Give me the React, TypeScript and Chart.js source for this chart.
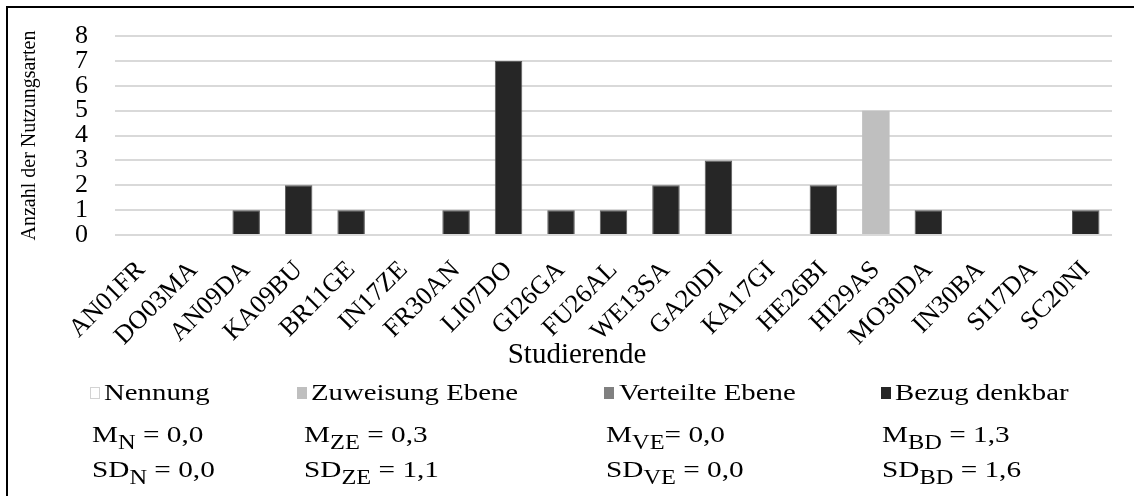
import React, { useEffect, useRef } from "react";
import { Chart, registerables } from "chart.js";

Chart.register(...registerables);

const categories = [
  "AN01FR", "DO03MA", "AN09DA", "KA09BU", "BR11GE", "IN17ZE", "FR30AN", "LI07DO",
  "GI26GA", "FU26AL", "WE13SA", "GA20DI", "KA17GI", "HE26BI", "HI29AS", "MO30DA",
  "IN30BA", "SI17DA", "SC20NI",
];
const nennung = [0, 0, 0, 0, 0, 0, 0, 0, 0, 0, 0, 0, 0, 0, 0, 0, 0, 0, 0];
const zuweisungEbene = [0, 0, 0, 0, 0, 0, 0, 0, 0, 0, 0, 0, 0, 0, 5, 0, 0, 0, 0];
const verteilteEbene = [0, 0, 0, 0, 0, 0, 0, 0, 0, 0, 0, 0, 0, 0, 0, 0, 0, 0, 0];
const bezugDenkbar = [0, 0, 1, 2, 1, 0, 1, 7, 1, 1, 2, 3, 0, 2, 0, 1, 0, 0, 1];

const yMin = 0;
const yMax = 8;
const yStep = 1;

const yTitle = "Anzahl der Nutzungsarten";
const xTitle = "Studierende";
const legendLabels = ["Nennung", "Zuweisung Ebene", "Verteilte Ebene", "Bezug denkbar"];
const statSubs = ["N", "ZE", "VE", "BD"];
const meanValues = ["0,0", "0,3", "0,0", "1,3"];
const sdValues = ["0,0", "1,1", "0,0", "1,6"];

const FONT = "'Liberation Serif', 'Times New Roman', serif";
const colors = ["#FFFFFF", "#BFBFBF", "#808080", "#262626"];

export default function App() {
  const ref = useRef<HTMLCanvasElement | null>(null);

  useEffect(() => {
    const canvas = ref.current;
    if (!canvas) return;

    const extras = {
      id: "extras",
      afterDraw(chart: any) {
        const ctx = chart.ctx as CanvasRenderingContext2D;
        const txt = (s: string, x: number, y: number, size: number, sx: number) => {
          ctx.font = `${size}px ${FONT}`;
          const w = ctx.measureText(s).width * sx;
          ctx.save();
          ctx.translate(x, y);
          ctx.scale(sx, 1);
          ctx.fillText(s, 0, 0);
          ctx.restore();
          return w;
        };
        ctx.save();
        // outer frame
        ctx.strokeStyle = "#000";
        ctx.lineWidth = 2;
        ctx.strokeRect(7, 7, 1140, 500);

        ctx.fillStyle = "#000";
        ctx.textBaseline = "alphabetic";
        ctx.textAlign = "center";
        ctx.font = `29px ${FONT}`;
        ctx.fillText(xTitle, 577, 363);

        // legend row
        const boxX = [90, 297, 604, 881];
        const textX = [104, 311, 619, 895];
        ctx.textAlign = "left";
        legendLabels.forEach((lab, i) => {
          if (i === 0) {
            ctx.fillStyle = "#fff";
            ctx.fillRect(boxX[i], 387, 10, 12);
            ctx.strokeStyle = "#A6A6A6";
            ctx.lineWidth = 1;
            ctx.setLineDash([1, 1]);
            ctx.strokeRect(boxX[i] + 0.5, 387.5, 9, 11);
            ctx.setLineDash([]);
          } else {
            ctx.fillStyle = colors[i];
            ctx.fillRect(boxX[i], 387, 10, 12);
          }
          ctx.fillStyle = "#000";
          txt(lab, textX[i], 400, 24, 1.2);
        });

        // stats rows
        const statX = [92, 304, 606, 882];
        const sx = 1.22;
        const drawStat = (x: number, y: number, main: string, sub: string, rest: string) => {
          let cx = x;
          cx += txt(main, cx, y, 24, sx);
          cx += txt(sub, cx, y + 7, 20, sx);
          txt(rest, cx, y, 24, sx);
        };
        statSubs.forEach((s, i) => {
          const sep = i === 2 ? "= " : " = ";
          drawStat(statX[i], 442, "M", s, sep + meanValues[i]);
          drawStat(statX[i], 477, "SD", s, " = " + sdValues[i]);
        });
        ctx.restore();
      },
    };

    const chart = new Chart(canvas, {
      type: "bar",
      data: {
        labels: categories,
        datasets: [
          { label: legendLabels[0], data: nennung, backgroundColor: colors[0], borderColor: "#A6A6A6", borderWidth: 0 },
          { label: legendLabels[1], data: zuweisungEbene, backgroundColor: colors[1], borderWidth: 0 },
          { label: legendLabels[2], data: verteilteEbene, backgroundColor: colors[2], borderWidth: 0 },
          { label: legendLabels[3], data: bezugDenkbar, backgroundColor: colors[3], borderColor: "#5a5a5a", borderWidth: 1 },
        ],
      },
      options: {
        responsive: false,
        animation: false,
        datasets: { bar: { categoryPercentage: 1, barPercentage: 0.524 } },
        layout: { padding: { left: 8, right: 22, top: 36, bottom: 131 } },
        plugins: { legend: { display: false }, tooltip: { enabled: false } },
        scales: {
          x: {
            stacked: true,
            grid: { display: false },
            border: { display: false },
            ticks: {
              color: "#000",
              font: { family: FONT, size: 26 },
              minRotation: 45,
              maxRotation: 45,
              autoSkip: false,
              padding: 12,
            },
            afterFit: (s: any) => { s.height = 130; },
          },
          y: {
            stacked: true,
            min: yMin,
            max: yMax,
            grid: { color: "#D9D9D9", lineWidth: 2, drawTicks: false },
            border: { display: false },
            ticks: {
              stepSize: yStep,
              autoSkip: false,
              color: "#000",
              font: { family: FONT, size: 26, lineHeight: 1 },
              padding: 27,
            },
            title: {
              display: true,
              text: yTitle,
              color: "#000",
              font: { family: FONT, size: 20 },
              padding: { top: 10, bottom: 10 },
            },
            afterFit: (s: any) => { s.width = 107; s.paddingTop = 0; s.paddingBottom = 0; },
          },
        },
      },
      plugins: [extras],
    });
    return () => chart.destroy();
  }, []);

  return (
    <div style={{ position: "fixed", left: 0, top: 0, width: 1134, height: 496, background: "#fff" }}>
      <canvas ref={ref} width={1134} height={496} style={{ display: "block" }} />
    </div>
  );
}
